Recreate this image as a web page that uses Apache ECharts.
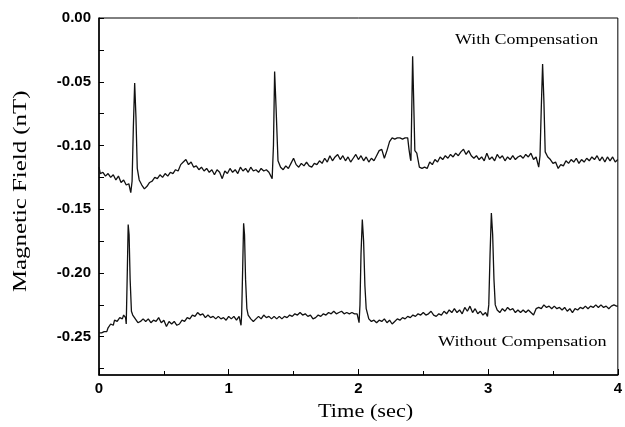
<!DOCTYPE html>
<html>
<head>
<meta charset="utf-8">
<script src="https://cdn.jsdelivr.net/npm/echarts@6/dist/echarts.min.js"></script>
<style>
  html, body { margin: 0; padding: 0; background: #fff; }
  #chart { width: 625px; height: 427px; }
</style>
</head>
<body>
<div id="chart"></div>
<script>
// time (sec) and field (nT)
const timeWith = [0.00,0.01,0.03,0.05,0.07,0.09,0.11,0.13,0.15,0.17,0.19,0.21,0.23,0.245,0.255,0.265,0.275,0.285,0.295,
  0.31,0.33,0.35,0.37,0.39,0.41,0.43,0.45,0.47,0.49,0.51,0.53,0.55,0.57,0.59,0.61,0.63,0.65,0.67,0.69,0.71,0.73,0.75,0.77,0.79,
  0.81,0.83,0.85,0.87,0.89,0.91,0.93,0.95,0.97,0.99,1.01,1.03,1.05,1.07,1.09,1.11,1.13,1.15,1.17,1.19,1.21,1.23,1.25,1.27,1.29,
  1.31,1.335,1.345,1.354,1.365,1.38,1.40,1.42,1.44,1.46,1.48,1.50,1.52,1.54,1.56,1.58,1.60,1.62,1.64,1.66,1.68,1.70,1.72,1.74,
  1.76,1.78,1.80,1.82,1.84,1.86,1.88,1.90,1.92,1.94,1.96,1.98,2.00,2.02,2.04,2.06,2.08,2.10,2.12,2.14,2.16,2.18,2.20,2.22,2.24,
  2.26,2.28,2.30,2.32,2.34,2.36,2.38,2.39,2.40,2.405,2.41,2.418,2.425,2.435,2.45,2.47,2.49,2.51,2.53,2.55,2.57,2.59,2.61,2.63,
  2.65,2.67,2.69,2.71,2.73,2.75,2.77,2.79,2.81,2.83,2.85,2.87,2.89,2.91,2.93,2.95,2.97,2.99,3.01,3.03,3.05,3.07,3.09,3.11,3.13,
  3.15,3.17,3.19,3.21,3.23,3.25,3.27,3.29,3.31,3.33,3.35,3.37,3.39,3.40,3.41,3.42,3.43,3.44,3.46,3.48,3.50,3.52,3.54,3.56,3.58,
  3.60,3.62,3.64,3.66,3.68,3.70,3.72,3.74,3.76,3.78,3.80,3.82,3.84,3.86,3.88,3.90,3.92,3.94,3.96,3.98,4.00];
const fieldWith = [-0.117,-0.122,-0.121,-0.124,-0.122,-0.125,-0.123,-0.127,-0.124,-0.129,-0.127,-0.131,-0.130,-0.137,-0.128,-0.085,-0.051,-0.078,-0.118,
  -0.127,-0.131,-0.134,-0.132,-0.129,-0.128,-0.125,-0.126,-0.123,-0.125,-0.122,-0.124,-0.121,-0.122,-0.119,-0.120,-0.115,-0.113,-0.111,-0.115,-0.113,-0.117,-0.116,-0.119,-0.117,
  -0.120,-0.118,-0.121,-0.119,-0.123,-0.119,-0.121,-0.126,-0.120,-0.122,-0.118,-0.121,-0.119,-0.122,-0.117,-0.120,-0.118,-0.121,-0.117,-0.120,-0.119,-0.121,-0.118,-0.120,-0.119,
  -0.121,-0.126,-0.100,-0.042,-0.070,-0.112,-0.117,-0.119,-0.116,-0.118,-0.114,-0.110,-0.115,-0.117,-0.114,-0.116,-0.113,-0.116,-0.117,-0.114,-0.115,-0.112,-0.114,-0.110,
  -0.113,-0.108,-0.112,-0.109,-0.107,-0.111,-0.108,-0.112,-0.109,-0.113,-0.110,-0.107,-0.111,-0.108,-0.112,-0.109,-0.113,-0.110,-0.112,-0.108,-0.104,-0.103,-0.110,-0.104,-0.097,
  -0.094,-0.095,-0.094,-0.094,-0.095,-0.094,-0.094,-0.103,-0.110,-0.112,-0.080,-0.030,-0.060,-0.104,-0.106,-0.117,-0.118,-0.117,-0.118,-0.113,-0.115,-0.111,-0.113,-0.109,
  -0.111,-0.108,-0.110,-0.107,-0.109,-0.106,-0.108,-0.105,-0.103,-0.107,-0.104,-0.108,-0.110,-0.108,-0.111,-0.109,-0.112,-0.106,-0.111,-0.109,-0.112,-0.107,-0.110,-0.108,-0.112,
  -0.109,-0.111,-0.108,-0.111,-0.109,-0.108,-0.110,-0.107,-0.109,-0.106,-0.111,-0.109,-0.117,-0.108,-0.070,-0.036,-0.065,-0.105,-0.109,-0.111,-0.114,-0.113,-0.118,-0.115,-0.116,
  -0.112,-0.114,-0.111,-0.113,-0.110,-0.114,-0.111,-0.113,-0.110,-0.112,-0.109,-0.111,-0.108,-0.112,-0.109,-0.113,-0.109,-0.112,-0.109,-0.113,-0.111];

const timeWithout = [0.00,0.02,0.04,0.06,0.07,0.09,0.11,0.12,0.14,0.16,0.18,0.19,0.205,0.21,0.218,0.225,0.232,0.24,0.25,0.26,0.28,
  0.30,0.32,0.34,0.36,0.38,0.40,0.42,0.44,0.46,0.48,0.50,0.52,0.54,0.56,0.58,0.60,0.62,0.64,0.66,0.68,0.70,0.72,0.74,0.76,0.78,
  0.80,0.82,0.84,0.86,0.88,0.90,0.92,0.94,0.96,0.98,1.00,1.02,1.04,1.06,1.08,1.095,1.10,1.108,1.115,1.122,1.13,1.14,1.15,1.17,
  1.19,1.21,1.23,1.25,1.27,1.29,1.31,1.33,1.35,1.37,1.39,1.41,1.43,1.45,1.47,1.49,1.51,1.53,1.55,1.57,1.59,1.61,1.63,1.65,1.67,
  1.69,1.71,1.73,1.75,1.77,1.79,1.81,1.83,1.85,1.87,1.89,1.91,1.93,1.95,1.97,1.99,2.005,2.012,2.02,2.03,2.04,2.05,2.06,2.08,2.10,
  2.12,2.14,2.16,2.18,2.20,2.22,2.24,2.26,2.28,2.30,2.32,2.34,2.36,2.38,2.40,2.42,2.44,2.46,2.48,2.50,2.52,2.54,2.56,2.58,2.60,
  2.62,2.64,2.66,2.68,2.70,2.72,2.74,2.76,2.78,2.80,2.82,2.84,2.86,2.88,2.90,2.92,2.94,2.96,2.98,2.995,3.005,3.015,3.025,3.035,
  3.045,3.055,3.07,3.09,3.11,3.13,3.15,3.17,3.19,3.21,3.23,3.25,3.27,3.29,3.31,3.33,3.35,3.37,3.39,3.41,3.43,3.45,3.47,3.49,3.51,
  3.53,3.55,3.57,3.59,3.61,3.63,3.65,3.67,3.69,3.71,3.73,3.75,3.77,3.79,3.81,3.83,3.85,3.87,3.89,3.91,3.93,3.95,3.97,3.99,4.00];
const fieldWithout = [-0.247,-0.247,-0.246,-0.246,-0.243,-0.240,-0.241,-0.237,-0.238,-0.235,-0.236,-0.233,-0.235,-0.240,-0.200,-0.162,-0.170,-0.205,-0.230,-0.233,-0.236,
  -0.239,-0.238,-0.236,-0.238,-0.236,-0.239,-0.237,-0.238,-0.235,-0.239,-0.237,-0.242,-0.238,-0.240,-0.238,-0.241,-0.240,-0.237,-0.238,-0.235,-0.236,-0.233,-0.234,-0.231,-0.233,
  -0.232,-0.235,-0.233,-0.235,-0.234,-0.236,-0.234,-0.236,-0.235,-0.237,-0.234,-0.236,-0.234,-0.237,-0.234,-0.241,-0.232,-0.195,-0.161,-0.170,-0.205,-0.228,-0.233,-0.236,
  -0.238,-0.236,-0.234,-0.236,-0.233,-0.235,-0.234,-0.236,-0.234,-0.236,-0.234,-0.236,-0.234,-0.235,-0.233,-0.234,-0.232,-0.233,-0.231,-0.233,-0.232,-0.234,-0.233,-0.236,-0.235,
  -0.233,-0.234,-0.232,-0.233,-0.231,-0.232,-0.230,-0.232,-0.231,-0.230,-0.232,-0.231,-0.232,-0.231,-0.232,-0.232,-0.239,-0.225,-0.185,-0.158,-0.175,-0.210,-0.228,-0.236,-0.238,
  -0.237,-0.239,-0.237,-0.238,-0.236,-0.239,-0.237,-0.240,-0.238,-0.236,-0.237,-0.235,-0.236,-0.234,-0.235,-0.233,-0.234,-0.232,-0.233,-0.231,-0.233,-0.232,-0.230,-0.233,-0.234,
  -0.232,-0.233,-0.230,-0.232,-0.229,-0.231,-0.228,-0.231,-0.229,-0.232,-0.227,-0.230,-0.226,-0.231,-0.228,-0.232,-0.230,-0.233,-0.231,-0.234,-0.225,-0.185,-0.153,-0.170,
  -0.205,-0.225,-0.229,-0.231,-0.228,-0.230,-0.227,-0.229,-0.228,-0.231,-0.229,-0.231,-0.229,-0.231,-0.229,-0.231,-0.233,-0.228,-0.227,-0.228,-0.225,-0.227,-0.226,-0.228,-0.226,
  -0.228,-0.227,-0.229,-0.227,-0.230,-0.228,-0.231,-0.228,-0.229,-0.227,-0.228,-0.226,-0.228,-0.226,-0.227,-0.225,-0.227,-0.225,-0.227,-0.226,-0.228,-0.226,-0.225,-0.226,-0.226];

const xTicks = [0, 1, 2, 3, 4];
const yTicks = [0.00, -0.05, -0.10, -0.15, -0.20, -0.25];
const yMinorTicks = [-0.025, -0.075, -0.125, -0.175, -0.225, -0.275];

function pairs(xs, ys) {
  return xs.map((x, i) => [x, ys[i]]);
}

const chart = echarts.init(document.getElementById("chart"));

const tickFont = { color: "#000", fontFamily: "Liberation Sans", fontSize: 15, fontWeight: "bold" };
const serif = "'Liberation Serif'";

let option = {
  animation: false,
  grid: { left: 99, right: 3, top: 18, bottom: 52, show: true, borderColor: "#000", borderWidth: 1 },
  xAxis: {
    type: "value",
    min: xTicks[0],
    max: xTicks[xTicks.length - 1],
    interval: 1,
    axisLine: { onZero: false, lineStyle: { color: "#000", width: 1.5 } },
    axisTick: { inside: true, length: 6, lineStyle: { color: "#000" } },
    minorTick: { show: true, splitNumber: 2, length: 4, lineStyle: { color: "#000" } },
    axisLabel: Object.assign({ margin: 6 }, tickFont),
    splitLine: { show: false },
  },
  yAxis: {
    type: "value",
    min: -0.28,
    max: 0,
    axisLine: { onZero: false, lineStyle: { color: "#000", width: 1.5 } },
    axisTick: {
      inside: true, length: 5, lineStyle: { color: "#000" },
      customValues: yTicks.concat(yMinorTicks),
    },
    axisLabel: Object.assign({
      margin: 8,
      customValues: yTicks,
      formatter: (v) => v.toFixed(2),
    }, tickFont),
    splitLine: { show: false },
  },
  series: [
    {
      name: "With Compensation",
      type: "line",
      data: pairs(timeWith, fieldWith),
      showSymbol: false,
      lineStyle: { color: "#111", width: 1.3 },
    },
    {
      name: "Without Compensation",
      type: "line",
      data: pairs(timeWithout, fieldWithout),
      showSymbol: false,
      lineStyle: { color: "#111", width: 1.3 },
    },
  ],
  graphic: [
    { type: "text", x: 455, y: 33, scaleX: 1.28,
      style: { text: "With Compensation", font: "14px " + serif, fill: "#000" } },
    { type: "text", x: 438, y: 335, scaleX: 1.3,
      style: { text: "Without Compensation", font: "14px " + serif, fill: "#000" } },
    { type: "text", x: 318, y: 403, scaleX: 1.24,
      style: { text: "Time (sec)", font: "18px " + serif, fill: "#000" } },
    { type: "text", x: 12, y: 292, rotation: Math.PI / 2, scaleX: 1.38,
      style: { text: "Magnetic Field (nT)", font: "18px " + serif, fill: "#000" } },
  ],
};
chart.setOption(option);
</script>
</body>
</html>
